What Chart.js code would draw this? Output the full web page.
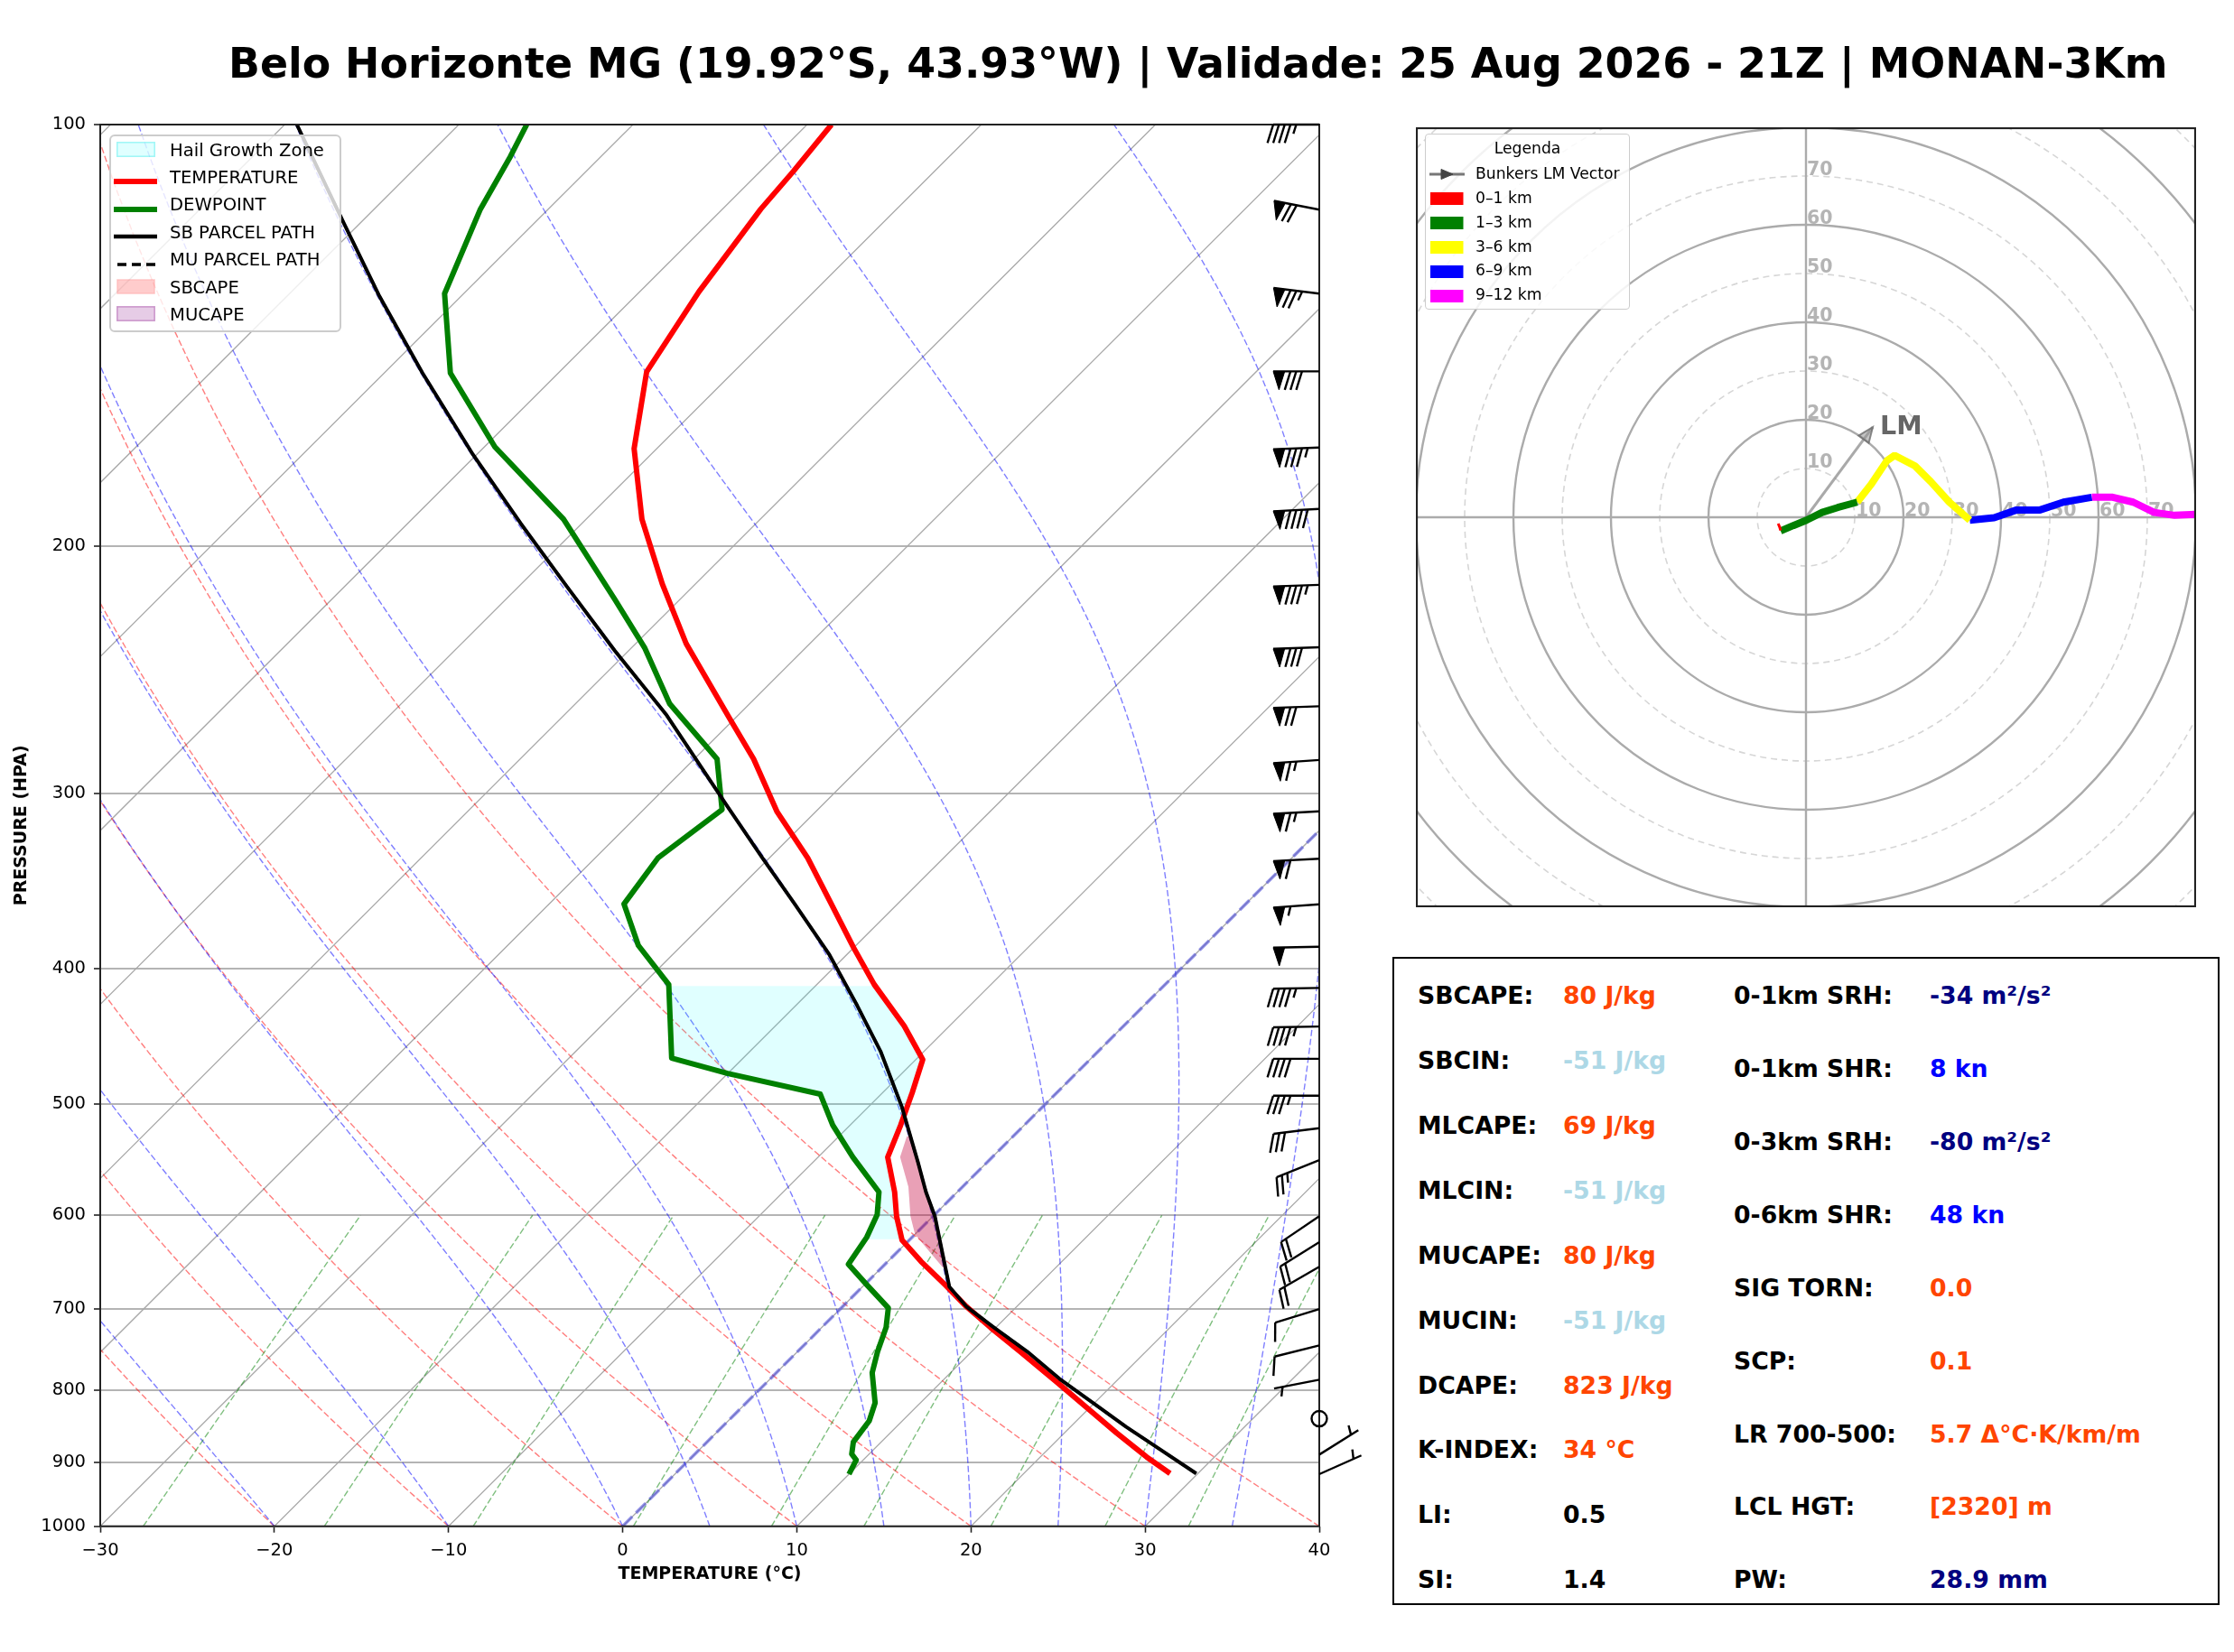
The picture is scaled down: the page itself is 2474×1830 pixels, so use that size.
<!DOCTYPE html>
<html><head><meta charset="utf-8"><title>Skew-T Belo Horizonte</title>
<script src="https://cdn.jsdelivr.net/npm/chart.js@4.4.1/dist/chart.umd.min.js"></script>
<style>
html,body{margin:0;padding:0;background:#fff;}
#root{position:relative;width:2474px;height:1830px;overflow:hidden;background:#fff;font-family:"DejaVu Sans",sans-serif;}
canvas{position:absolute;display:block;}
.t{position:absolute;white-space:nowrap;line-height:1;font-family:"DejaVu Sans",sans-serif;}
</style></head>
<body><div id="root">
<canvas id="skew" width="1540" height="1790" style="left:0;top:0;width:1540px;height:1790px"></canvas>
<canvas id="hodo" width="864" height="864" style="left:1568px;top:141px;width:864px;height:864px"></canvas>
</div>
<script>
Chart.defaults.font.family = '"DejaVu Sans", sans-serif';
const root = document.getElementById('root');

// ================= DATA =================
const TITLE = 'Belo Horizonte MG (19.92°S, 43.93°W) | Validade: 25 Aug 2026 - 21Z | MONAN-3Km';
const pressureTicks = [100, 200, 300, 400, 500, 600, 700, 800, 900, 1000];
const tempTicks = [-30, -20, -10, 0, 10, 20, 30, 40];

// Temperature profile (hPa, °C)
const tempP = [917, 892.4, 857.9, 820.5, 788.7, 750.7, 721.5, 697.0, 673.2, 647.2, 625.1, 600.9, 577.5, 545.4, 517.4, 490.6, 464.6, 439.6, 410.7, 386.6, 358.4, 333.6, 309.3, 283.5, 264.8, 234.6, 212.7, 191.2, 170.3, 150.1, 131.6, 114.9, 108.0, 100];
const tempT = [28.4, 26.1, 23.0, 19.6, 16.6, 12.8, 9.7, 7.1, 4.7, 1.9, -0.4, -2.1, -3.6, -6.0, -7.1, -8.3, -9.6, -12.6, -16.7, -20.0, -24.0, -27.8, -32.2, -36.6, -40.4, -47.1, -51.9, -56.8, -61.3, -65.0, -66.6, -67.8, -68.1, -68.6];

// Dewpoint profile (hPa, °C)
const dewP = [918, 896.9, 888.1, 870.7, 841.1, 816.5, 777.1, 750.7, 721.5, 698.6, 673.2, 650.3, 622.1, 599.4, 577.5, 545.4, 517.4, 491.7, 475.3, 463.5, 410.7, 385.1, 359.8, 333.6, 308.1, 283.5, 258.9, 236.4, 218.3, 191.2, 169.8, 150.4, 132.0, 114.9, 105.4, 100];
const dewT = [10.0, 9.6, 9.0, 8.4, 8.1, 7.4, 5.5, 4.6, 3.7, 2.7, 0.2, -2.1, -2.6, -3.3, -4.5, -8.0, -11.0, -13.5, -20.0, -24.1, -28.5, -32.5, -35.7, -36.4, -35.5, -38.7, -44.6, -49.2, -53.7, -61.3, -69.4, -76.2, -81.1, -83.9, -85.2, -86.1];

// Surface-based parcel path (hPa, °C); MU parcel coincides
const parcelP = [917, 875, 849.4, 816.5, 784.8, 750.7, 721.5, 697.0, 674.9, 637.6, 600.9, 577.5, 549.6, 501.9, 458.3, 424.9, 391.0, 359.8, 333.6, 306.9, 263.9, 237.3, 213.7, 192.6, 172.0, 150.4, 132.3, 117.2, 100];
const parcelT = [29.9, 25.8, 23.2, 19.9, 16.6, 13.2, 9.9, 7.1, 5.0, 2.6, 0.1, -1.8, -4.0, -8.1, -12.5, -16.5, -21.0, -25.9, -30.4, -35.3, -44.1, -50.8, -57.2, -63.5, -70.2, -77.8, -84.8, -91.1, -99.3];
const muParcelP = parcelP;
const muParcelT = parcelT;

// CAPE area environmental (virtual) boundary (hPa, °C), surface upward
const capeP = [653.6, 637.6, 619.0, 600.9, 572.7, 545.2, 527];
const capeT = [3.5, 1.9, 0.0, -1.3, -3.1, -5.3, -6.1];

// Hail growth zone layer (bottom, top) hPa
const hailZoneP = [624.1, 411.7];

// Wind barbs
const windP   = [100, 115, 132, 150, 170, 188, 213, 236, 260, 284, 309, 334, 360, 386, 413, 440, 464, 493, 520, 548, 601, 627, 653, 700, 743, 786, 838, 889, 918];
const windSpd = [45, 70, 75, 80, 85, 90, 85, 80, 70, 65, 65, 60, 55, 50, 45, 45, 40, 35, 30, 25, 20, 20, 20, 10, 10, 5, 0, 5, 5];
const windDir = [270, 281, 277, 270, 268, 267, 268, 268, 268, 266, 267, 267, 266, 269, 269, 269, 270, 270, 263, 248, 236, 238, 240, 253, 256, 259, 0, 58, 66];

// Hodograph (kt)
const hodoU01 = [-5.7, -5.4, -5.2];            const hodoV01 = [-1.3, -2.0, -2.7];
const hodoU13 = [-5.2, -2.6, 0.1, 3.3, 6.5, 10.5]; const hodoV13 = [-2.8, -1.7, -0.6, 1.0, 2.0, 3.1];
const hodoU36 = [10.5, 13.4, 16.6, 18.2, 22.4, 25.6, 29.4, 33.6]; const hodoV36 = [3.1, 6.8, 11.6, 12.7, 10.5, 7.3, 3.1, -0.6];
const hodoU69 = [33.6, 38.6, 43.2, 48.0, 52.8, 58.6]; const hodoV69 = [-0.6, -0.1, 1.5, 1.5, 3.1, 4.1];
const hodoU912 = [58.6, 62.9, 67.1, 71.4, 75.6, 80.0]; const hodoV912 = [4.1, 4.1, 3.1, 1.0, 0.4, 0.6];
const lmVector = [13.7, 18.5];
const hodoRings = [10, 20, 30, 40, 50, 60, 70, 80, 90, 100, 110];
const hodoRingLabels = [10, 20, 30, 40, 50, 60, 70];

// Indices table
const tblLeftLabels = ['SBCAPE:', 'SBCIN:', 'MLCAPE:', 'MLCIN:', 'MUCAPE:', 'MUCIN:', 'DCAPE:', 'K-INDEX:', 'LI:', 'SI:'];
const tblLeftValues = ['80 J/kg', '-51 J/kg', '69 J/kg', '-51 J/kg', '80 J/kg', '-51 J/kg', '823 J/kg', '34 °C', '0.5', '1.4'];
const tblLeftColors = ['#ff4500', '#add8e6', '#ff4500', '#add8e6', '#ff4500', '#add8e6', '#ff4500', '#ff4500', '#000000', '#000000'];
const tblRightLabels = ['0-1km SRH:', '0-1km SHR:', '0-3km SRH:', '0-6km SHR:', 'SIG TORN:', 'SCP:', 'LR 700-500:', 'LCL HGT:', 'PW:'];
const tblRightValues = ['-34 m²/s²', '8 kn', '-80 m²/s²', '48 kn', '0.0', '0.1', '5.7 Δ°C·K/km/m', '[2320] m', '28.9 mm'];
const tblRightColors = ['#000080', '#0000ff', '#000080', '#0000ff', '#ff4500', '#ff4500', '#ff4500', '#ff4500', '#000080'];

// ================= HELPERS =================
const SKEW = 35;
function skewX(T, p) { return T + SKEW * Math.log(1000 / p); }
function toXY(P, T) { return P.map((p, i) => ({x: skewX(T[i], p), y: p})); }
function interpT(P, T, p) {
  for (let i = 0; i < P.length - 1; i++) {
    if (p <= P[i] && p >= P[i + 1]) {
      const f = Math.log(P[i] / p) / Math.log(P[i] / P[i + 1]);
      return T[i] + f * (T[i + 1] - T[i]);
    }
  }
  return T[T.length - 1];
}
function bandPolygon(Pa, Ta, Pb, Tb, pBot, pTop) {
  const pts = [];
  pts.push({x: skewX(interpT(Pa, Ta, pBot), pBot), y: pBot});
  Pa.forEach((p, i) => { if (p < pBot && p > pTop) pts.push({x: skewX(Ta[i], p), y: p}); });
  pts.push({x: skewX(interpT(Pa, Ta, pTop), pTop), y: pTop});
  pts.push({x: skewX(interpT(Pb, Tb, pTop), pTop), y: pTop});
  for (let i = Pb.length - 1; i >= 0; i--) { const p = Pb[i]; if (p < pBot && p > pTop) pts.push({x: skewX(Tb[i], p), y: p}); }
  pts.push({x: skewX(interpT(Pb, Tb, pBot), pBot), y: pBot});
  pts.push({x: pts[0].x, y: pts[0].y});
  return pts;
}
function uvXY(U, V) { return U.map((u, i) => ({x: u, y: V[i]})); }

function addText(txt, x, capY, fs, bold, color, align) {
  const d = document.createElement('div');
  d.className = 't';
  d.textContent = txt;
  d.style.fontSize = fs + 'px';
  d.style.fontWeight = bold ? 'bold' : 'normal';
  d.style.color = color || '#000';
  const baseline = capY + 0.3645 * fs;
  d.style.top = (baseline - 0.846 * fs) + 'px';
  d.style.left = x + 'px';
  if (align === 'center') d.style.transform = 'translateX(-50%)';
  root.appendChild(d);
  return d;
}
function addBox(x, y, w, h, css) {
  const d = document.createElement('div');
  d.style.cssText = `position:absolute;box-sizing:border-box;left:${x}px;top:${y}px;width:${w}px;height:${h}px;` + css;
  root.appendChild(d);
  return d;
}
function addSvg(x, y, w, h, inner) {
  const d = addBox(x, y, w, h, '');
  d.innerHTML = `<svg xmlns="http://www.w3.org/2000/svg" width="${w}" height="${h}">${inner}</svg>`;
}

// moist adiabat integration
function moistAdiabat(t0c) {
  const Rd = 287.04749, Cp = 1004.6662, Lv = 2.50084e6, eps = 0.62195691;
  const f = (p, T) => { const Tc = T - 273.15; const es = 6.112 * Math.exp(17.67 * Tc / (Tc + 243.5)); const rs = eps * es / (p - es);
    return (Rd * T + Lv * rs) / (Cp + Lv * Lv * rs * eps / (Rd * T * T)) / p; };
  const P = [1000], T = [t0c]; let p = 1000, t = t0c + 273.15; const h = -5;
  while (p > 100.001) {
    const k1 = f(p, t), k2 = f(p + h / 2, t + h / 2 * k1), k3 = f(p + h / 2, t + h / 2 * k2), k4 = f(p + h, t + h * k3);
    t += h / 6 * (k1 + 2 * k2 + 2 * k3 + k4); p += h; P.push(p); T.push(t - 273.15);
  }
  return {P, T};
}
const dryT0 = [-30, -20, -10, 0, 10, 20, 30, 40];
const moistT0 = [-30, -20, -10, 0, 5, 10, 15, 20, 25, 30, 35, 40];
const mixW = [0.0004, 0.001, 0.002, 0.004, 0.007, 0.01, 0.016, 0.024, 0.032];
const moistLines = moistT0.map(moistAdiabat);

// ================= SKEW-T PLUGINS =================
const skewBg = {
  id: 'skewBg',
  beforeDatasetsDraw(chart) {
    const {ctx, chartArea: a, scales: {x, y}} = chart;
    ctx.save();
    ctx.beginPath(); ctx.rect(a.left, a.top, a.right - a.left, a.bottom - a.top); ctx.clip();
    const path = (P, T) => { ctx.beginPath(); P.forEach((p, i) => { const px = x.getPixelForValue(skewX(T[i], p)), py = y.getPixelForValue(p); if (i) ctx.lineTo(px, py); else ctx.moveTo(px, py); }); ctx.stroke(); };
    // isotherms
    ctx.setLineDash([]); ctx.strokeStyle = '#a8a8a8'; ctx.lineWidth = 1.3;
    for (let t = -140; t <= 40; t += 10) path([1000, 100], [t, t]);
    const pFine = []; for (let p = 1000; p >= 100; p -= 10) pFine.push(p);
    // dry adiabats
    ctx.setLineDash([7, 3]); ctx.strokeStyle = 'rgba(255,0,0,0.5)'; ctx.lineWidth = 1.4;
    dryT0.forEach(t0 => path(pFine, pFine.map(p => (t0 + 273.15) * Math.pow(p / 1000, 0.28571) - 273.15)));
    // moist adiabats
    ctx.strokeStyle = 'rgba(0,0,255,0.5)';
    moistLines.forEach(m => path(m.P, m.T));
    // mixing ratio
    ctx.strokeStyle = 'rgba(0,128,0,0.5)';
    const pMix = []; for (let p = 1000; p >= 600; p -= 10) pMix.push(p);
    mixW.forEach(w => path(pMix, pMix.map(p => { const e = p * w / (0.622 + w); const l = Math.log(e / 6.112); return 243.5 * l / (17.67 - l); })));
    // 0 °C isotherm
    ctx.setLineDash([15, 6]); ctx.strokeStyle = 'rgba(70,70,220,0.55)'; ctx.lineWidth = 3.6;
    path([1000, 100], [0, 0]);
    ctx.restore();
  }
};
const skewFrame = {
  id: 'skewFrame',
  afterDraw(chart) {
    const {ctx, chartArea: a} = chart;
    ctx.save(); ctx.setLineDash([]); ctx.strokeStyle = '#222'; ctx.lineWidth = 2;
    ctx.strokeRect(a.left, a.top, a.right - a.left, a.bottom - a.top);
    ctx.restore();
  }
};
const barbPlugin = {
  id: 'barbs',
  afterDraw(chart) {
    const {ctx, chartArea: a, scales: {y}} = chart;
    ctx.save();
    ctx.setLineDash([]); ctx.strokeStyle = '#000'; ctx.fillStyle = '#000'; ctx.lineWidth = 2.4; ctx.lineCap = 'butt'; ctx.lineJoin = 'miter';
    const L = 51, H = 0.4 * L, W = 0.25 * L, SP = 0.125 * L;
    windP.forEach((p, i) => {
      const x0 = a.right, y0 = y.getPixelForValue(p);
      const spd = windSpd[i], dir = windDir[i] * Math.PI / 180;
      if (spd < 2.5) { ctx.beginPath(); ctx.arc(x0, y0, 8.5, 0, 2 * Math.PI); ctx.stroke(); return; }
      const sx = Math.sin(dir), sy = -Math.cos(dir), fx = sy, fy = -sx;
      const P = (t, h) => [x0 + sx * t + fx * h, y0 + sy * t + fy * h];
      let s = Math.round(spd / 5) * 5; const nf = Math.floor(s / 50); s -= nf * 50; const nb = Math.floor(s / 10); s -= nb * 10; const half = s >= 5;
      ctx.beginPath(); ctx.moveTo(...P(0, 0)); ctx.lineTo(...P(L, 0)); ctx.stroke();
      let off = L;
      for (let k = 0; k < nf; k++) { ctx.beginPath(); ctx.moveTo(...P(off, 0)); ctx.lineTo(...P(off - W / 2, H)); ctx.lineTo(...P(off - W, 0)); ctx.closePath(); ctx.fill(); ctx.lineWidth = 1; ctx.stroke(); ctx.lineWidth = 2.4; off -= W + SP; }
      for (let k = 0; k < nb; k++) { ctx.beginPath(); ctx.moveTo(...P(off, 0)); ctx.lineTo(...P(off + W / 2, H)); ctx.stroke(); off -= SP; }
      if (half) { if (off === L) off -= 1.5 * SP; ctx.beginPath(); ctx.moveTo(...P(off, 0)); ctx.lineTo(...P(off + W / 4, H / 2)); ctx.stroke(); }
    });
    ctx.restore();
  }
};

const lineBase = {pointRadius: 0, tension: 0, borderJoinStyle: 'round', borderCapStyle: 'butt', fill: false};
const capePoly = bandPolygon(capeP, capeT, parcelP, parcelT, capeP[0], capeP[capeP.length - 1]);
const hgzPoly = bandPolygon(dewP, dewT, tempP, tempT, hailZoneP[0], hailZoneP[1]);

new Chart(document.getElementById('skew'), {
  type: 'line',
  data: {datasets: [
    Object.assign({}, lineBase, {label: 'SB PARCEL PATH', data: toXY(parcelP, parcelT), borderColor: '#000', borderWidth: 4, order: 0}),
    Object.assign({}, lineBase, {label: 'MU PARCEL PATH', data: toXY(muParcelP, muParcelT), borderColor: '#000', borderWidth: 3, borderDash: [10, 6], order: 1}),
    Object.assign({}, lineBase, {label: 'TEMPERATURE', data: toXY(tempP, tempT), borderColor: '#ff0000', borderWidth: 6, order: 2}),
    Object.assign({}, lineBase, {label: 'DEWPOINT', data: toXY(dewP, dewT), borderColor: '#008000', borderWidth: 6, order: 3}),
    Object.assign({}, lineBase, {label: 'SBCAPE', data: capePoly, fill: 'shape', backgroundColor: 'rgba(255,0,0,0.2)', borderColor: 'transparent', borderWidth: 0, order: 4}),
    Object.assign({}, lineBase, {label: 'MUCAPE', data: capePoly, fill: 'shape', backgroundColor: 'rgba(128,0,128,0.22)', borderColor: 'transparent', borderWidth: 0, order: 5}),
    Object.assign({}, lineBase, {label: 'Hail Growth Zone', data: hgzPoly, fill: 'shape', backgroundColor: 'rgba(0,255,255,0.12)', borderColor: 'transparent', borderWidth: 0, order: 6})
  ]},
  options: {
    responsive: false, animation: false, devicePixelRatio: 1,
    layout: {padding: {left: 0, top: 138, right: 79, bottom: 0}},
    plugins: {legend: {display: false}, tooltip: {enabled: false}},
    scales: {
      x: {
        type: 'linear', min: -30, max: 40,
        afterFit(s) { s.height = 99.3; },
        afterBuildTicks(s) { s.ticks = tempTicks.map(v => ({value: v})); },
        ticks: {font: {size: 19.5}, color: '#000', padding: 9, maxRotation: 0, autoSkip: false, callback: v => String(v).replace('-', '\u2212')},
        grid: {drawOnChartArea: false, drawTicks: true, tickLength: 7, tickColor: '#222', tickWidth: 1.6},
        border: {display: false},
        title: {display: true, text: 'TEMPERATURE (°C)', color: '#000', font: {size: 19, weight: 'bold'}, padding: {top: 0, bottom: 34.6}}
      },
      y: {
        type: 'logarithmic', min: 100, max: 1000, reverse: true,
        afterFit(s) { s.width = 111; },
        afterBuildTicks(s) { s.ticks = pressureTicks.map(v => ({value: v})); },
        ticks: {font: {size: 19.5}, color: '#000', padding: 9, autoSkip: false, callback: v => String(v)},
        grid: {color: '#b4b4b4', lineWidth: 2, tickLength: 7, tickColor: '#222', tickWidth: 1.6},
        border: {display: false},
        title: {display: true, text: 'PRESSURE (HPA)', color: '#000', font: {size: 19, weight: 'bold'}, padding: {top: 12.6, bottom: 0}}
      }
    }
  },
  plugins: [skewBg, skewFrame, barbPlugin]
});

// ================= HODOGRAPH =================
const hodoBg = {
  id: 'hodoBg',
  beforeDatasetsDraw(chart) {
    const {ctx, chartArea: a, scales: {x, y}} = chart;
    const cx = x.getPixelForValue(0), cy = y.getPixelForValue(0);
    ctx.save();
    ctx.beginPath(); ctx.rect(a.left, a.top, a.right - a.left, a.bottom - a.top); ctx.clip();
    hodoRings.forEach(r => {
      const rp = x.getPixelForValue(r) - cx;
      if (r % 20 === 0) { ctx.setLineDash([]); ctx.strokeStyle = '#ababab'; ctx.lineWidth = 2.4; }
      else { ctx.setLineDash([7, 5]); ctx.strokeStyle = '#d6d6d6'; ctx.lineWidth = 1.6; }
      ctx.beginPath(); ctx.arc(cx, cy, rp, 0, 2 * Math.PI); ctx.stroke();
    });
    ctx.setLineDash([]); ctx.strokeStyle = '#ababab'; ctx.lineWidth = 2.4;
    ctx.beginPath(); ctx.moveTo(a.left, cy); ctx.lineTo(a.right, cy); ctx.moveTo(cx, a.top); ctx.lineTo(cx, a.bottom); ctx.stroke();
    ctx.fillStyle = '#b4b4b4'; ctx.font = 'bold 20.5px "DejaVu Sans"'; ctx.textAlign = 'left'; ctx.textBaseline = 'alphabetic';
    hodoRingLabels.forEach(r => {
      ctx.fillText(String(r), cx + 1, y.getPixelForValue(r) - 1);
      ctx.fillText(String(r), x.getPixelForValue(r) + 1, cy - 1);
    });
    ctx.restore();
  },
  afterDatasetsDraw(chart) {
    const {ctx, scales: {x, y}} = chart;
    const x0 = x.getPixelForValue(0), y0 = y.getPixelForValue(0);
    const x1 = x.getPixelForValue(lmVector[0]), y1 = y.getPixelForValue(lmVector[1]);
    const ang = Math.atan2(y1 - y0, x1 - x0), hl = 17, hw = 7;
    ctx.save();
    ctx.beginPath();
    ctx.moveTo(x1, y1);
    ctx.lineTo(x1 - hl * Math.cos(ang) + hw * Math.sin(ang), y1 - hl * Math.sin(ang) - hw * Math.cos(ang));
    ctx.lineTo(x1 - hl * Math.cos(ang) - hw * Math.sin(ang), y1 - hl * Math.sin(ang) + hw * Math.cos(ang));
    ctx.closePath();
    ctx.fillStyle = 'rgba(150,150,150,0.55)'; ctx.fill();
    ctx.strokeStyle = 'rgba(110,110,110,0.8)'; ctx.lineWidth = 2; ctx.stroke();
    ctx.fillStyle = '#666'; ctx.font = 'bold 28.5px "DejaVu Sans"'; ctx.textAlign = 'left'; ctx.textBaseline = 'middle';
    ctx.fillText('LM', x.getPixelForValue(lmVector[0] + 1.5), y.getPixelForValue(lmVector[1] - 0.1));
    ctx.restore();
  },
  afterDraw(chart) {
    const {ctx, chartArea: a} = chart;
    ctx.save(); ctx.strokeStyle = '#222'; ctx.lineWidth = 2.2;
    ctx.strokeRect(a.left + 1, a.top + 1, a.right - a.left - 2, a.bottom - a.top - 2);
    ctx.restore();
  }
};
const hodoLine = {pointRadius: 0, tension: 0, fill: false, borderCapStyle: 'butt', borderJoinStyle: 'bevel'};
new Chart(document.getElementById('hodo'), {
  type: 'line',
  data: {datasets: [
    Object.assign({}, hodoLine, {label: '0–1 km', data: uvXY(hodoU01, hodoV01), borderColor: '#ff0000', borderWidth: 3}),
    Object.assign({}, hodoLine, {label: '1–3 km', data: uvXY(hodoU13, hodoV13), borderColor: '#008000', borderWidth: 8}),
    Object.assign({}, hodoLine, {label: '3–6 km', data: uvXY(hodoU36, hodoV36), borderColor: '#ffff00', borderWidth: 8}),
    Object.assign({}, hodoLine, {label: '6–9 km', data: uvXY(hodoU69, hodoV69), borderColor: '#0000ff', borderWidth: 8}),
    Object.assign({}, hodoLine, {label: '9–12 km', data: uvXY(hodoU912, hodoV912), borderColor: '#ff00ff', borderWidth: 8}),
    Object.assign({}, hodoLine, {label: 'Bunkers LM Vector', data: [{x: 0, y: 0}, {x: lmVector[0], y: lmVector[1]}], borderColor: 'rgba(140,140,140,0.75)', borderWidth: 3})
  ]},
  options: {
    responsive: false, animation: false, devicePixelRatio: 1,
    layout: {padding: 0},
    plugins: {legend: {display: false}, tooltip: {enabled: false}},
    scales: {x: {type: 'linear', min: -80, max: 80, display: false}, y: {type: 'linear', min: -80, max: 80, display: false}}
  },
  plugins: [hodoBg]
});

// ================= TEXT / LEGENDS / TABLE =================
(function () {
  const c = document.createElement('canvas').getContext('2d');
  c.font = 'bold 100px "DejaVu Sans"';
  const fs = 100 * 2148 / c.measureText(TITLE).width;
  addText(TITLE, 253, 70, fs, true, '#000');
})();

// Skew-T legend
addBox(121, 149, 257, 219, 'background:rgba(255,255,255,0.8);border:2px solid #cccccc;border-radius:6px;');
const skLeg = [
  {t: 'Hail Growth Zone', k: 'patch', fill: 'rgba(0,255,255,0.12)', stroke: 'rgba(0,230,230,0.35)'},
  {t: 'TEMPERATURE', k: 'line', c: '#ff0000', w: 6},
  {t: 'DEWPOINT', k: 'line', c: '#008000', w: 6},
  {t: 'SB PARCEL PATH', k: 'line', c: '#000', w: 4.5},
  {t: 'MU PARCEL PATH', k: 'dash', c: '#000', w: 3.5},
  {t: 'SBCAPE', k: 'patch', fill: 'rgba(255,0,0,0.2)', stroke: 'rgba(255,0,0,0.12)'},
  {t: 'MUCAPE', k: 'patch', fill: 'rgba(128,0,128,0.2)', stroke: 'rgba(128,0,128,0.35)'}
];
skLeg.forEach((it, i) => {
  const cy = 166 + i * 30.4;
  if (it.k === 'patch') addSvg(129, cy - 9, 43, 17, `<rect x="0.75" y="0.75" width="41.5" height="15.5" fill="${it.fill}" stroke="${it.stroke}" stroke-width="1.5"/>`);
  else if (it.k === 'line') addSvg(126, cy - 5, 48, 10, `<line x1="0" y1="5" x2="48" y2="5" stroke="${it.c}" stroke-width="${it.w}"/>`);
  else addSvg(126, cy - 5, 48, 10, `<line x1="4" y1="5" x2="48" y2="5" stroke="${it.c}" stroke-width="${it.w}" stroke-dasharray="10 6"/>`);
  addText(it.t, 188, cy, 19.6, false, '#000');
});

// Hodograph legend
addBox(1578, 148, 227, 195, 'background:rgba(255,255,255,0.85);border:1.5px solid #cccccc;border-radius:4px;');
addText('Legenda', 1691.5, 164, 17.2, false, '#000', 'center');
const hoLeg = [
  {t: 'Bunkers LM Vector', arrow: true},
  {t: '0–1 km', c: '#ff0000'}, {t: '1–3 km', c: '#008000'}, {t: '3–6 km', c: '#ffff00'}, {t: '6–9 km', c: '#0000ff'}, {t: '9–12 km', c: '#ff00ff'}
];
hoLeg.forEach((it, i) => {
  const cy = 192.5 + i * 26.8;
  if (it.arrow) addSvg(1583, cy - 8, 39, 16, '<line x1="0" y1="8" x2="39" y2="8" stroke="#777" stroke-width="3"/><polygon points="13,2.5 26,8 13,13.5" fill="#444" stroke="#444" stroke-width="1"/>');
  else addSvg(1584, cy - 7, 36.5, 14, `<rect x="0" y="0" width="36.5" height="14" fill="${it.c}"/>`);
  addText(it.t, 1634, cy, 17.2, false, '#000');
});

// Indices table
addBox(1542, 1060, 916, 718, 'border:2.5px solid #000;background:#fff;');
tblLeftLabels.forEach((lb, i) => {
  const cy = 1103 + i * 71.9;
  addText(lb, 1570, cy, 26.7, true, '#000');
  addText(tblLeftValues[i], 1731, cy, 26.7, true, tblLeftColors[i]);
});
tblRightLabels.forEach((lb, i) => {
  const cy = 1103 + i * 80.9;
  addText(lb, 1920, cy, 26.7, true, '#000');
  addText(tblRightValues[i], 2137, cy, 26.7, true, tblRightColors[i]);
});
</script>
</body></html>
